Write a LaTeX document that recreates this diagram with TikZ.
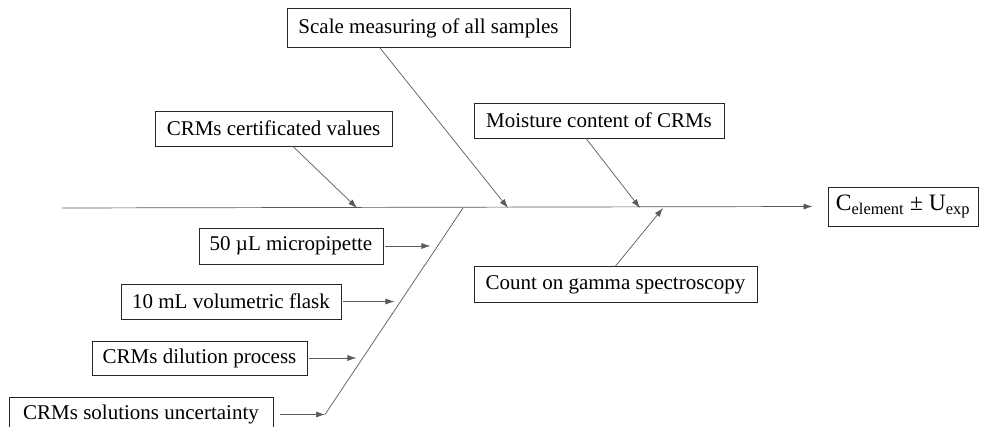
\documentclass[tikz,border=0pt]{standalone}
\usepackage{fontspec}
\setmainfont{Liberation Serif}
\usetikzlibrary{arrows.meta}
\begin{document}
\begin{tikzpicture}[x=1pt,y=-1pt,
  bx/.style={draw=black!85,line width=0.9pt,inner sep=0pt,minimum height=35pt,font=\fontsize{21}{23}\selectfont},
  bone/.style={draw=black!65,line width=0.7pt},
  arr/.style={bone,-{Latex[length=9pt,width=6pt]}}]
\useasboundingbox (0,0) rectangle (981,427);
% boxes
\node[bx,minimum width=283pt,minimum height=39pt] (scale) at (428.5,28) {Scale measuring of all samples};
\node[bx,minimum width=237pt] (cv) at (273.5,128.5) {CRMs certificated values};
\node[bx,minimum width=250pt] (moist) at (599,120.5) {Moisture content of CRMs};
\node[bx,minimum width=150pt,minimum height=39pt,font=\fontsize{23.5}{26}\selectfont] (res) at (903,206.5) {C\textsubscript{element} ± U\textsubscript{exp}};
\node[bx,minimum width=283pt,minimum height=36pt] (count) at (615.5,284.5) {Count on gamma spectroscopy};
\node[bx,minimum width=184pt,minimum height=36pt] (micro) at (291,246) {50 µL micropipette};
\node[bx,minimum width=220pt] (flask) at (231,301.5) {10 mL volumetric flask};
\node[bx,minimum width=215pt,minimum height=34pt] (dil) at (199.5,358) {CRMs dilution process};
\node[bx,minimum width=264pt] (sol) at (141,414.5) {CRMs solutions uncertainty};
% spine
\coordinate (s0) at (62,208);
\coordinate (s1) at ([xshift=-15pt]res.west);
\draw[arr] (s0) -- (s1);
% diagonal bone
\coordinate (d0) at (463,208);
\coordinate (d1) at (325,414.5);
\draw[bone] (d0) -- (d1);
% arrow end points
\coordinate (ecv) at (357,208);
\coordinate (esc) at (508,208);
\coordinate (emo) at (640,208);
\coordinate (eco) at (663,208);
\coordinate (emi) at ([xshift=47pt]micro.east);
\coordinate (efl) at ([xshift=53pt]flask.east);
\coordinate (edi) at ([xshift=49pt]dil.east);
% arrows
\draw[arr] ([xshift=19.5pt]cv.south) -- (ecv);
\draw[arr] ([xshift=-48.5pt]scale.south) -- (esc);
\draw[arr] ([xshift=-13pt]moist.south) -- (emo);
\draw[arr] (count.north) -- (eco);
\draw[arr] ([xshift=2pt]micro.east) -- (emi);
\draw[arr] ([xshift=2pt]flask.east) -- (efl);
\draw[arr] ([xshift=2pt]dil.east) -- (edi);
\draw[arr] ([xshift=7pt]sol.east) -- (d1);
\end{tikzpicture}
\end{document}
